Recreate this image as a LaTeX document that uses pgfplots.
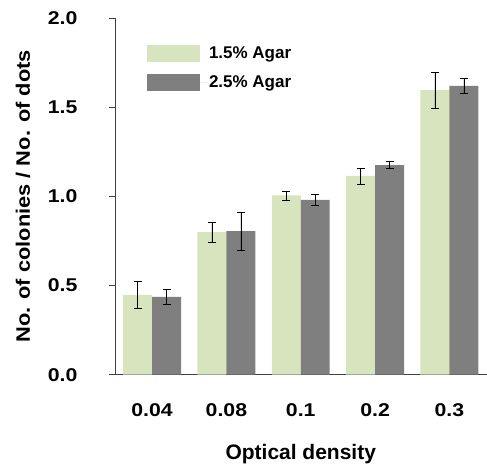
\documentclass[border=0pt]{standalone}
\usepackage{pgfplots}
\pgfplotsset{compat=1.18}
\usepackage{fontspec}
\setmainfont{Liberation Sans}
\newfontfamily\widefont{Liberation Sans}[FakeStretch=1.15]
\newfontfamily\ylabfont{Liberation Sans}[FakeStretch=1.12]
\definecolor{agargreen}{HTML}{D7E4BD}
\definecolor{agargray}{HTML}{7F7F7F}
\definecolor{axgray}{HTML}{404040}
\begin{document}
\begin{tikzpicture}
\begin{axis}[
  name=ax,
  scale only axis,
  width=372pt, height=357pt,
  xmin=-0.5, xmax=4.5,
  ymin=0, ymax=2,
  axis x line*=bottom,
  axis y line*=left,
  axis line style={axgray, line width=0.8pt},
  ytick={0,0.5,1,1.5,2},
  yticklabels={0.0,0.5,1.0,1.5,2.0},
  xtick={0,1,2,3,4},
  xticklabels={0.04,0.08,0.1,0.2,0.3},
  major x tick style={draw=none},
  extra x ticks={0.5,1.5,2.5,3.5},
  extra x tick labels={},
  extra x tick style={tick style={axgray, line width=0.8pt}, major tick length=6pt, tick align=outside},
  ytick style={axgray, line width=0.8pt},
  tick align=outside,
  major tick length=6pt,
  /pgf/number format/assume math mode=true,
  ticklabel style={font=\widefont\bfseries\fontsize{18.5}{21}\selectfont},
  y tick label style={anchor=east, xshift=-28pt},
  x tick label style={anchor=center, yshift=-29pt},
  xlabel={Optical density},
  ylabel={No. of colonies / No. of dots},
  xlabel style={font=\bfseries\fontsize{21}{24}\selectfont, at={(axis description cs:0.5,0)}, anchor=center, yshift=-79pt},
  ylabel style={font=\ylabfont\bfseries\fontsize{19.5}{22}\selectfont, at={(axis description cs:0,0.5)}, anchor=center, yshift=92pt},
  ybar=0pt,
  bar width=29pt,
  legend style={draw=none, fill=none, at={(0.078,0.932)}, anchor=north west,
    font=\bfseries\fontsize{17}{19}\selectfont, row sep=12pt},
  legend image code/.code={\draw[#1, draw=none] (0pt,-8.5pt) rectangle (53pt,8.5pt); \path (0pt,0pt) -- (60pt,0pt);},
  legend cell align=left,
  error bars/error bar style={black, line width=0.6pt},
  error bars/error mark options={rotate=90, mark size=4pt, black, line width=0.6pt},
]
\addplot[fill=agargreen, draw=none, error bars/.cd, y dir=both, y explicit]
  coordinates {(0,0.448) +- (0,0.078) (1,0.800) +- (0,0.055) (2,1.005) +- (0,0.025) (3,1.115) +- (0,0.045) (4,1.595) +- (0,0.100)};
\addplot[fill=agargray, draw=none, error bars/.cd, y dir=both, y explicit]
  coordinates {(0,0.437) +- (0,0.043) (1,0.805) +- (0,0.108) (2,0.980) +- (0,0.030) (3,1.175) +- (0,0.020) (4,1.620) +- (0,0.040)};
\legend{1.5\% Agar, 2.5\% Agar}
\end{axis}
\path ([xshift=-115pt,yshift=-93pt]ax.south west) rectangle ([yshift=18pt]ax.north east);
\end{tikzpicture}
\end{document}
